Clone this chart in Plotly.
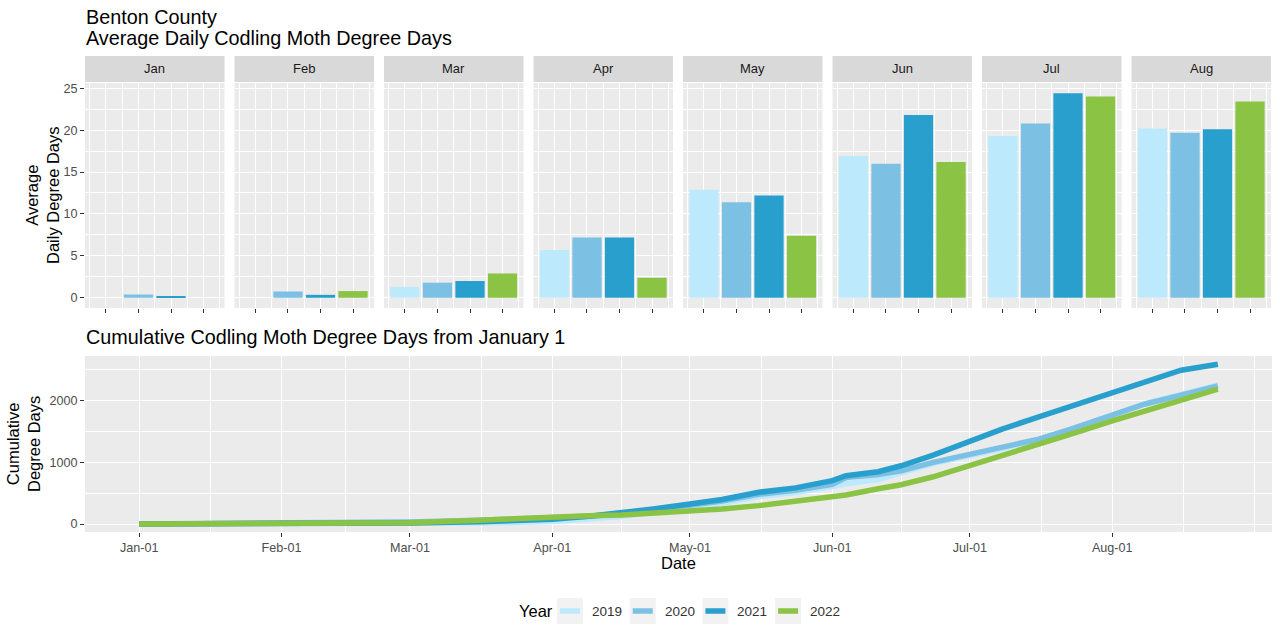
import plotly.graph_objects as go

# ---------------- data ----------------
months = ["Jan", "Feb", "Mar", "Apr", "May", "Jun", "Jul", "Aug"]
years = [2019, 2020, 2021, 2022]
year_labels = ["2019", "2020", "2021", "2022"]

# average daily degree days per month
avg_2019 = [None, None, 1.3, 5.7, 12.9, 16.9, 19.3, 20.2]
avg_2020 = [0.4, 0.75, 1.8, 7.2, 11.4, 16.0, 20.8, 19.7]
avg_2021 = [0.15, 0.35, 2.0, 7.2, 12.2, 21.8, 24.4, 20.1]
avg_2022 = [None, 0.8, 2.9, 2.4, 7.4, 16.2, 24.0, 23.4]

# cumulative degree days from January 1
cum_dates = ["2022-01-01", "2022-01-16", "2022-02-01", "2022-02-16", "2022-03-01",
             "2022-03-16", "2022-04-01", "2022-04-09", "2022-04-16", "2022-04-23",
             "2022-05-01", "2022-05-08", "2022-05-16", "2022-05-24", "2022-06-01",
             "2022-06-04", "2022-06-11", "2022-06-16", "2022-06-23", "2022-07-01",
             "2022-07-08", "2022-07-16", "2022-07-23", "2022-08-01", "2022-08-08",
             "2022-08-16", "2022-08-24"]
cum_2019 = [0, 0, 0, 0, 0, 15, 42, 80, 120, 185, 265, 335, 445, 510, 605,
            650, 720, 830, 975, 1105, 1215, 1365, 1530, 1750, 1940, 2090, 2245]
cum_2020 = [0, 6, 12, 22, 34, 62, 90, 125, 165, 225, 300, 370, 480, 545, 640,
            750, 800, 860, 995, 1118, 1226, 1371, 1532, 1747, 1935, 2081, 2231]
cum_2021 = [0, 2, 5, 8, 15, 38, 77, 124, 178, 243, 324, 395, 513, 584, 700,
            780, 844, 941, 1113, 1344, 1532, 1731, 1898, 2110, 2300, 2484, 2580]
cum_2022 = [0, 0, 2, 12, 22, 62, 119, 135, 146, 173, 200, 243, 297, 368, 443,
            470, 570, 634, 763, 941, 1102, 1280, 1452, 1667, 1828, 2000, 2177]

month_ticks = ["2022-01-01", "2022-02-01", "2022-03-01", "2022-04-01",
               "2022-05-01", "2022-06-01", "2022-07-01", "2022-08-01"]
month_minor = ["2022-01-16 12:00", "2022-02-15", "2022-03-16 12:00", "2022-04-16",
               "2022-05-16 12:00", "2022-06-16", "2022-07-16 12:00", "2022-08-16 12:00",
               "2022-09-01"]

# ---------------- styling ----------------
colors = ["#BDE9FC", "#7CC0E3", "#289FCD", "#8BC344"]
FONT = "Liberation Sans"
PANEL_BG = "#EBEBEB"
STRIP_BG = "#D9D9D9"
TICK_COL = "#4D4D4D"
W, H = 1280, 640
TITLE_SIZE = 19.8
AXTITLE_SIZE = 16.5
TICK_SIZE = 12.6

avg_series = [avg_2019, avg_2020, avg_2021, avg_2022]
cum_series = [cum_2019, cum_2020, cum_2021, cum_2022]

fig = go.Figure()
layout = {}
shapes = []
annotations = []


def px(x):
    return x / W


def py(y):
    return 1 - y / H


panel_w = 139.5
panel_gap = 10.0
panel_left0 = 85.0
top_y0, top_y1 = 83.0, 308.0
strip_y0, strip_y1 = 56.0, 82.0

for i, m in enumerate(months):
    xl = panel_left0 + i * (panel_w + panel_gap)
    xr = xl + panel_w
    ax = "" if i == 0 else str(i + 1)
    vals = [s[i] for s in avg_series]
    fig.add_trace(go.Bar(
        x=years, y=vals, width=0.9,
        marker=dict(color=colors, line=dict(width=0)),
        xaxis="x" + ax, yaxis="y" + ax, showlegend=False,
        hovertemplate="%{x}: %{y}<extra>" + m + "</extra>",
    ))
    layout["xaxis" + ax] = dict(
        domain=[px(xl), px(xr)], anchor="y" + ax,
        range=[2018.355, 2022.645], tickvals=years, showticklabels=False,
        ticks="outside", ticklen=4, tickcolor="#333333", tickwidth=1,
        showgrid=True, gridcolor="white", gridwidth=1.4,
        minor=dict(tickvals=[2018.5, 2019.5, 2020.5, 2021.5, 2022.5],
                   showgrid=True, gridcolor="white", gridwidth=0.7),
        zeroline=False, showline=False, fixedrange=True,
    )
    layout["yaxis" + ax] = dict(
        domain=[py(top_y1), py(top_y0)], anchor="x" + ax,
        range=[-1.22, 25.62], tickvals=[0, 5, 10, 15, 20, 25],
        showticklabels=(i == 0), ticks="outside" if i == 0 else "",
        ticklen=4, tickcolor="#333333", tickwidth=1,
        tickfont=dict(family=FONT, size=TICK_SIZE, color=TICK_COL),
        showgrid=True, gridcolor="white", gridwidth=1.4,
        minor=dict(tickvals=[2.5, 7.5, 12.5, 17.5, 22.5],
                   showgrid=True, gridcolor="white", gridwidth=0.7),
        zeroline=False, showline=False, fixedrange=True,
    )
    shapes.append(dict(type="rect", xref="paper", yref="paper",
                       x0=px(xl), x1=px(xr), y0=py(strip_y1), y1=py(strip_y0),
                       fillcolor=STRIP_BG, line=dict(width=0), layer="below"))
    annotations.append(dict(text=m, xref="paper", yref="paper",
                            x=px((xl + xr) / 2), y=py((strip_y0 + strip_y1) / 2),
                            xanchor="center", yanchor="middle", showarrow=False,
                            font=dict(family=FONT, size=13, color="#1A1A1A")))

# bottom cumulative panel
for j in range(4):
    fig.add_trace(go.Scatter(
        x=cum_dates, y=cum_series[j], mode="lines",
        line=dict(color=colors[j], width=5.5),
        name=year_labels[j], xaxis="x9", yaxis="y9", showlegend=False,
    ))

layout["xaxis9"] = dict(
    domain=[px(85), px(1272)], anchor="y9", type="date",
    range=["2021-12-20 04:48", "2022-09-04 19:12"],
    tickvals=month_ticks, tickformat="%b-%d",
    tickfont=dict(family=FONT, size=TICK_SIZE, color=TICK_COL),
    ticks="outside", ticklen=4, tickcolor="#333333", tickwidth=1,
    showgrid=True, gridcolor="white", gridwidth=1.4,
    minor=dict(tickvals=month_minor, showgrid=True, gridcolor="white", gridwidth=0.7),
    zeroline=False, showline=False, fixedrange=True,
)
layout["yaxis9"] = dict(
    domain=[py(532), py(356)], anchor="x9",
    range=[-129, 2714], tickvals=[0, 1000, 2000],
    tickfont=dict(family=FONT, size=TICK_SIZE, color=TICK_COL),
    ticks="outside", ticklen=4, tickcolor="#333333", tickwidth=1,
    showgrid=True, gridcolor="white", gridwidth=1.4,
    minor=dict(tickvals=[500, 1500, 2500], showgrid=True, gridcolor="white", gridwidth=0.7),
    zeroline=False, showline=False, fixedrange=True,
)

# titles & axis titles
annotations += [
    dict(text="Benton County", xref="paper", yref="paper", x=px(84), y=py(17),
         xanchor="left", yanchor="middle", showarrow=False,
         font=dict(family=FONT, size=TITLE_SIZE, color="black")),
    dict(text="Average Daily Codling Moth Degree Days", xref="paper", yref="paper",
         x=px(84), y=py(38), xanchor="left", yanchor="middle", showarrow=False,
         font=dict(family=FONT, size=TITLE_SIZE, color="black")),
    dict(text="Cumulative Codling Moth Degree Days from January 1", xref="paper",
         yref="paper", x=px(84), y=py(337), xanchor="left", yanchor="middle",
         showarrow=False, font=dict(family=FONT, size=TITLE_SIZE, color="black")),
    dict(text="Average<br>Daily Degree Days", xref="paper", yref="paper",
         x=px(42), y=py(195), xanchor="center", yanchor="middle", textangle=-90,
         showarrow=False, font=dict(family=FONT, size=AXTITLE_SIZE, color="black")),
    dict(text="Cumulative<br>Degree Days", xref="paper", yref="paper",
         x=px(23), y=py(444), xanchor="center", yanchor="middle", textangle=-90,
         showarrow=False, font=dict(family=FONT, size=AXTITLE_SIZE, color="black")),
    dict(text="Date", xref="paper", yref="paper", x=px(678), y=py(563),
         xanchor="center", yanchor="middle", showarrow=False,
         font=dict(family=FONT, size=AXTITLE_SIZE, color="black")),
]

# legend (ggplot style: grey key squares with a colored bar)
leg_y = 611
annotations.append(dict(text="Year", xref="paper", yref="paper", x=px(517), y=py(leg_y),
                        xanchor="left", yanchor="middle", showarrow=False,
                        font=dict(family=FONT, size=AXTITLE_SIZE, color="black")))
for j in range(4):
    kx = 557 + j * 72.7
    shapes.append(dict(type="rect", xref="paper", yref="paper",
                       x0=px(kx), x1=px(kx + 26), y0=py(leg_y + 13), y1=py(leg_y - 13),
                       fillcolor="#F2F2F2", line=dict(width=0)))
    shapes.append(dict(type="line", xref="paper", yref="paper",
                       x0=px(kx + 3), x1=px(kx + 23), y0=py(leg_y), y1=py(leg_y),
                       line=dict(color=colors[j], width=5.5)))
    annotations.append(dict(text=year_labels[j], xref="paper", yref="paper",
                            x=px(kx + 33), y=py(leg_y), xanchor="left", yanchor="middle",
                            showarrow=False,
                            font=dict(family=FONT, size=13.5, color="#333333")))

fig.update_layout(
    width=W, height=H,
    margin=dict(l=0, r=0, t=0, b=0),
    paper_bgcolor="white", plot_bgcolor=PANEL_BG,
    font=dict(family=FONT, color="black"),
    showlegend=False,
    shapes=shapes, annotations=annotations,
    **layout,
)

fig.write_html("out.html",
               config={"displayModeBar": False},
               post_script="document.body.style.margin='0px';document.body.style.padding='0px';")
